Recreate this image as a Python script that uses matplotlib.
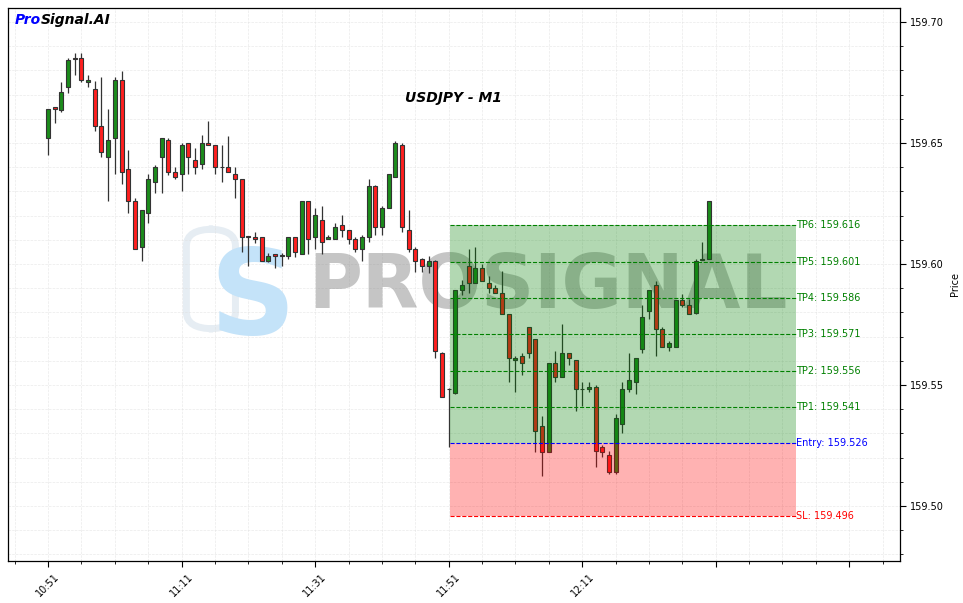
import matplotlib
matplotlib.use("Agg")
import matplotlib.pyplot as plt
import numpy as np
import pandas as pd
from matplotlib.ticker import MultipleLocator, FuncFormatter
from matplotlib.patches import FancyBboxPatch

# ---- data ----
opens = [159.6519, 159.6650, 159.6638, 159.6730, 159.6850, 159.6850, 159.6751, 159.6722, 159.6569, 159.6441,
         159.6519, 159.6759, 159.6393, 159.6260, 159.6069, 159.6210, 159.6340, 159.6441, 159.6511, 159.6379,
         159.6371, 159.6499, 159.6429, 159.6412, 159.6499, 159.6491, 159.6400, 159.6400, 159.6371, 159.6350,
         159.6117, 159.6110, 159.6110, 159.6012, 159.6041, 159.6034, 159.6032, 159.6110, 159.6043, 159.6260,
         159.6110, 159.6181, 159.6102, 159.6102, 159.6160, 159.6139, 159.6102, 159.6061, 159.6110, 159.6322,
         159.6152, 159.6231, 159.6358, 159.6492, 159.6139, 159.6061, 159.6019, 159.5991, 159.6011, 159.5631,
         159.5484, 159.5468, 159.5891, 159.5991, 159.5920, 159.5982, 159.5920, 159.5900, 159.5879, 159.5792,
         159.5602, 159.5619, 159.5738, 159.5689, 159.5329, 159.5222, 159.5590, 159.5532, 159.5631, 159.5602,
         159.5482, 159.5482, 159.5491, 159.5243, 159.5210, 159.5139, 159.5340, 159.5482, 159.5511, 159.5650,
         159.5807, 159.5912, 159.5730, 159.5658, 159.5658, 159.5850, 159.5829, 159.5799, 159.6019, 159.6019]
highs = [159.6641, 159.6650, 159.6751, 159.6850, 159.6871, 159.6871, 159.6781, 159.6757, 159.6772, 159.6639,
         159.6772, 159.6799, 159.6471, 159.6272, 159.6222, 159.6372, 159.6409, 159.6519, 159.6519, 159.6400,
         159.6499, 159.6499, 159.6478, 159.6533, 159.6591, 159.6491, 159.6491, 159.6530, 159.6400, 159.6350,
         159.6117, 159.6131, 159.6110, 159.6047, 159.6041, 159.6044, 159.6110, 159.6110, 159.6260, 159.6260,
         159.6230, 159.6240, 159.6120, 159.6171, 159.6201, 159.6139, 159.6110, 159.6119, 159.6350, 159.6326,
         159.6240, 159.6371, 159.6510, 159.6500, 159.6222, 159.6069, 159.6025, 159.6032, 159.6017, 159.5638,
         159.5488, 159.5893, 159.5935, 159.6061, 159.6069, 159.5999, 159.5949, 159.5912, 159.5971, 159.5792,
         159.5619, 159.5631, 159.5738, 159.5689, 159.5371, 159.5590, 159.5639, 159.5751, 159.5631, 159.5602,
         159.5512, 159.5511, 159.5500, 159.5252, 159.5227, 159.5380, 159.5511, 159.5631, 159.5610, 159.5829,
         159.5891, 159.5929, 159.5738, 159.5681, 159.5850, 159.5877, 159.5857, 159.6019, 159.6090, 159.6260]
lows = [159.6450, 159.6581, 159.6629, 159.6708, 159.6781, 159.6751, 159.6733, 159.6550, 159.6441, 159.6260,
        159.6372, 159.6329, 159.6210, 159.6061, 159.6014, 159.6168, 159.6292, 159.6292, 159.6368, 159.6351,
        159.6302, 159.6371, 159.6371, 159.6393, 159.6491, 159.6371, 159.6340, 159.6379, 159.6272, 159.6048,
        159.5992, 159.6088, 159.6012, 159.6007, 159.5982, 159.5993, 159.6021, 159.6030, 159.6040, 159.6040,
        159.6062, 159.6041, 159.6102, 159.6102, 159.6110, 159.6081, 159.6051, 159.6012, 159.6090, 159.6120,
        159.6120, 159.6231, 159.6358, 159.6131, 159.6051, 159.5968, 159.5968, 159.5963, 159.5613, 159.5449,
        159.5245, 159.5462, 159.5872, 159.5879, 159.5920, 159.5929, 159.5879, 159.5879, 159.5792, 159.5512,
        159.5471, 159.5541, 159.5610, 159.5222, 159.5123, 159.5222, 159.5511, 159.5532, 159.5581, 159.5391,
        159.5412, 159.5470, 159.5160, 159.5201, 159.5131, 159.5131, 159.5300, 159.5470, 159.5462, 159.5631,
        159.5772, 159.5619, 159.5658, 159.5639, 159.5658, 159.5821, 159.5792, 159.5792, 159.6019, 159.6019]
closes = [159.6639, 159.6639, 159.6710, 159.6842, 159.6848, 159.6759, 159.6759, 159.6569, 159.6462, 159.6511,
          159.6759, 159.6379, 159.6260, 159.6061, 159.6222, 159.6350, 159.6400, 159.6519, 159.6379, 159.6358,
          159.6491, 159.6441, 159.6400, 159.6499, 159.6491, 159.6400, 159.6401, 159.6379, 159.6350, 159.6110,
          159.6110, 159.6102, 159.6012, 159.6033, 159.6033, 159.6036, 159.6110, 159.6048, 159.6260, 159.6102,
          159.6201, 159.6090, 159.6110, 159.6152, 159.6139, 159.6102, 159.6061, 159.6110, 159.6322, 159.6152,
          159.6231, 159.6371, 159.6500, 159.6152, 159.6061, 159.6011, 159.5991, 159.6011, 159.5639, 159.5449,
          159.5482, 159.5893, 159.5913, 159.5920, 159.5982, 159.5929, 159.5900, 159.5879, 159.5792, 159.5610,
          159.5610, 159.5590, 159.5631, 159.5309, 159.5222, 159.5590, 159.5532, 159.5631, 159.5610, 159.5482,
          159.5483, 159.5491, 159.5229, 159.5222, 159.5139, 159.5362, 159.5482, 159.5519, 159.5610, 159.5780,
          159.5891, 159.5730, 159.5658, 159.5672, 159.5850, 159.5829, 159.5792, 159.6011, 159.6018, 159.6260]

times = pd.date_range("2024-06-28 10:51", periods=len(opens), freq="min")

entry = 159.526
sl = 159.496
tp_levels = [159.541, 159.556, 159.571, 159.586, 159.601, 159.616]
zone_start = 60.2
zone_end = 112.0

# ---- figure ----
fig = plt.figure(figsize=(9.63, 6.03), dpi=100)
ax = fig.add_axes([8 / 963, 42 / 603, 892 / 963, 553 / 603])

x = np.arange(len(opens))
o = np.array(opens)
c = np.array(closes)
up = c >= o
body_lo = np.minimum(o, c)
body_h = np.maximum(np.abs(c - o), 0.00012)
cols = np.where(up, "#1c8c1c", "#ff1f1f")

ax.vlines(x, lows, highs, color="#333333", linewidth=0.9, zorder=2)
ax.bar(x, body_h, bottom=body_lo, width=0.6, color=cols, edgecolor="#333333",
       linewidth=0.8, zorder=3)

# trade zones
ax.fill_between([zone_start, zone_end], entry, tp_levels[-1], color="green", alpha=0.3,
                linewidth=0, zorder=4)
ax.fill_between([zone_start, zone_end], sl, entry, color="red", alpha=0.3,
                linewidth=0, zorder=4)
for i, lv in enumerate(tp_levels):
    ax.hlines(lv, zone_start, zone_end, colors="green", linestyles="--", linewidth=0.8, zorder=5)
    ax.text(zone_end, lv, f"TP{i + 1}: {lv:.3f}", color="green", fontsize=7,
            va="center", ha="left", zorder=6)
ax.hlines(entry, zone_start, zone_end, colors="blue", linestyles="--", linewidth=0.8, zorder=5)
ax.text(zone_end, entry, f"Entry: {entry:.3f}", color="blue", fontsize=7, va="center", ha="left")
ax.hlines(sl, zone_start, zone_end, colors="red", linestyles="--", linewidth=0.8, zorder=5)
ax.text(zone_end, sl, f"SL: {sl:.3f}", color="red", fontsize=7, va="center", ha="left")

# watermark
ax.add_patch(FancyBboxPatch((0.20, 0.42), 0.055, 0.18, boxstyle="round,pad=0.0,rounding_size=0.03",
                            transform=ax.transAxes, facecolor="none", edgecolor="#e6edf3",
                            linewidth=5, zorder=0.5))
ax.text(0.2735, 0.47, "S", transform=ax.transAxes, fontsize=86, fontweight="bold",
        color="#c4e3f9", ha="center", va="center", zorder=0.6)
ax.text(0.605, 0.495, "PROSIGNAL", transform=ax.transAxes, fontsize=53, fontweight="bold",
        color="gray", alpha=0.45, ha="center", va="center", zorder=0.6)

ax.text(0.499, 0.838, "USDJPY - M1", transform=ax.transAxes, fontsize=10,
        fontweight="bold", fontstyle="italic", ha="center", va="center")
t1 = ax.text(0.008, 0.978, "Pro", transform=ax.transAxes, fontsize=10, fontweight="bold",
             fontstyle="italic", color="blue", ha="left", va="center")
ax.annotate("Signal.AI", xycoords=t1, xy=(1, 0), va="bottom", ha="left", fontsize=10,
            fontweight="bold", fontstyle="italic", color="black")

# axes
ax.set_xlim(-6, 127.6)
ax.set_ylim(159.4773, 159.7058)
ax.yaxis.tick_right()
ax.yaxis.set_label_position("right")
ax.set_ylabel("Price", fontsize=7)
ax.yaxis.set_major_locator(MultipleLocator(0.05))
ax.yaxis.set_minor_locator(MultipleLocator(0.01))
ax.yaxis.set_major_formatter(FuncFormatter(lambda v, p: f"{v:.2f}"))
ax.xaxis.set_major_locator(MultipleLocator(20))
ax.xaxis.set_minor_locator(MultipleLocator(5))


def fmt_time(v, pos):
    i = int(round(v))
    if 0 <= i < len(times):
        return times[i].strftime("%H:%M")
    return ""


ax.xaxis.set_major_formatter(FuncFormatter(fmt_time))
ax.tick_params(axis="both", which="major", labelsize=7, length=4)
ax.tick_params(axis="both", which="minor", length=2)
plt.setp(ax.get_xticklabels(), rotation=45, ha="center")
ax.grid(True, which="both", color="#dddddd", linestyle="--", linewidth=0.5, alpha=0.6, zorder=0)
ax.set_axisbelow(True)
for s in ax.spines.values():
    s.set_linewidth(0.9)

fig.savefig("out.png", dpi=100)
